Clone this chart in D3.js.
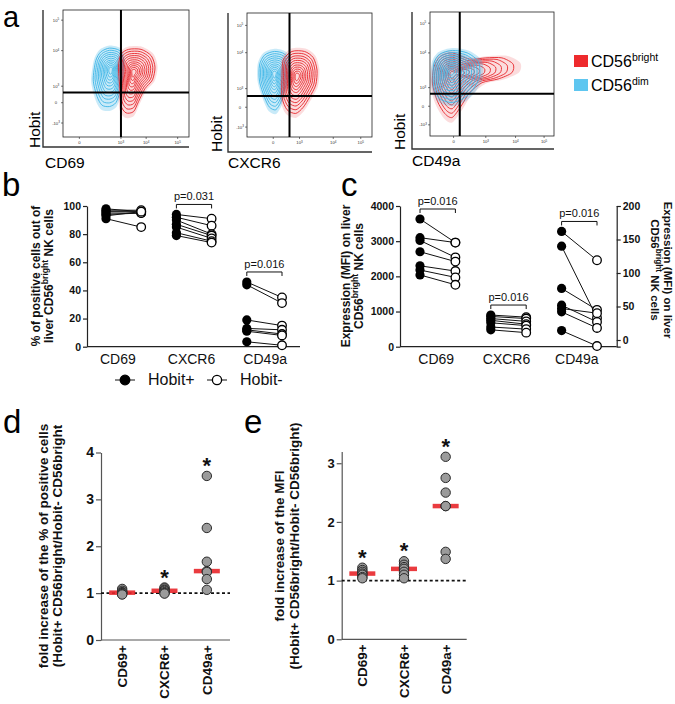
<!DOCTYPE html>
<html><head><meta charset="utf-8">
<script src="https://cdn.jsdelivr.net/npm/d3@7"></script>
<style>body{margin:0;background:#fff}svg{display:block}text{font-family:"Liberation Sans",Arial,sans-serif}</style>
</head><body><svg id="fig" width="675" height="704"></svg>
<script>
// ================= DATA =================
// panel a: flow plots (display units 0-100 inside each plot box)
const flowMarkers = ["CD69", "CXCR6", "CD49a"];
const flowYTickLabels = [["10","5"], ["10","4"], ["10","3"], ["0",""], ["-10","3"]];
const flowXTickLabels = [["0",""], ["10","3"], ["10","4"], ["10","5"]];
const flowYTicks = [[92, 68, 40, 27, 11], [90, 68, 39, 24, 8], [91, 67, 39, 24, 9]];
const flowXTicks = [[13, 46, 66, 91], [21, 42, 69, 91], [19, 45, 69, 92]];
const flowGates = [[46, 35], [34, 33], [24, 34]];
const contourLevels = [1, 0.9, 0.8, 0.71, 0.62, 0.53, 0.44, 0.36, 0.28, 0.2, 0.12];
const brightPeaks = [[56, 51], [40, 49], [18, 50]];
const dimPeaks = [[38, 53], [22, 51], [17, 52]];
const brightOutlines = [
  [[46,65],[52,69],[62,69],[70,64],[73,55],[71,45],[65,38],[60,28],[56,20],[50,19],[46,25],[45,40],[44,55]],
  [[29,62],[36,69],[46,69],[53,64],[56,54],[55,42],[50,32],[45,24],[39,19],[32,22],[28,32],[28,48]],
  [[3,55],[8,64],[18,67],[32,62],[45,63],[58,63],[67,58],[66,51],[55,46],[42,43],[32,35],[25,24],[18,15],[12,18],[6,28],[2,42]]
];
const dimOutlines = [
  [[26,60],[30,67],[37,70],[45,68],[48,60],[47,45],[45,35],[42,27],[37,24],[31,25],[27,32],[24,45]],
  [[10,58],[14,66],[22,69],[30,67],[34,60],[33,48],[30,38],[27,28],[23,22],[18,24],[14,32],[10,45]],
  [[3,58],[8,66],[18,69],[30,67],[39,60],[40,48],[35,38],[28,31],[18,27],[8,30],[3,40]]
];
const legendA = [["CD56", "bright"], ["CD56", "dim"]];

// panel b: % positive cells, Hobit+ vs Hobit- (7 donors)
const bcCategories = ["CD69", "CXCR6", "CD49a"];
const pctHobitPos = [[98, 97, 96, 95, 94, 93, 91], [94, 92, 90, 87, 85, 81, 79], [46, 44, 19, 13, 12, 11, 3.5]];
const pctHobitNeg = [[96, 97, 96, 95, 95, 96, 85], [91, 86, 80, 79, 77, 75, 74], [35, 31, 15, 12, 9, 8, 1]];
const pB = ["", "p=0.031", "p=0.016"];
const bTicks = [0, 20, 40, 60, 80, 100];
const legendB = ["Hobit+", "Hobit-"];

// panel c: MFI (CD49a on right axis)
const mfiHobitPos = [[3630, 3100, 3020, 2700, 2300, 2180, 2040], [900, 860, 800, 750, 680, 560, 480], [162, 140, 77, 52, 47, 42, 14]];
const mfiHobitNeg = [[2960, 2960, 2540, 2420, 2150, 1970, 1760], [840, 800, 720, 640, 600, 500, 400], [119, 33, 45, 27, 40, 18, -9]];
const pC = ["p=0.016", "p=0.016", "p=0.016"];
const cLeftTicks = [0, 1000, 2000, 3000, 4000];
const cRightTicks = [0, 50, 100, 150, 200];

// panel d/e: fold increase
const foldCategories = ["CD69+", "CXCR6+", "CD49a+"];
const foldPct = [[1.09, 1.05, 1.02, 1.01, 1.0, 0.98, 0.97], [1.12, 1.1, 1.07, 1.05, 1.02, 1.0, 0.99], [3.5, 2.39, 1.67, 1.47, 1.45, 1.3, 1.07]];
const foldMfi = [[1.22, 1.18, 1.15, 1.12, 1.1, 1.06, 1.04], [1.33, 1.27, 1.23, 1.2, 1.15, 1.1, 1.04], [3.11, 2.75, 2.5, 2.27, 2.27, 1.49, 1.37]];
const sigPct = [false, true, true];
const sigMfi = [true, true, true];
const dTicks = [0, 1, 2, 3, 4];
const eTicks = [0, 1, 2, 3];

// ================= STYLE =================
const RED = "#e8262b", BLUE = "#3db5e6";
const svg = d3.select("#fig");
const FONT = '"Liberation Sans",Arial,sans-serif';
const fmtInt = d3.format("d");

function letter(t, x, y, size) {
  svg.append("text").attr("x", x).attr("y", y).attr("font-size", size || 33).text(t);
}

// ================= PANEL A =================
const flowBoxes = [
  {x0: 63, x1: 189, y0: 10, y1: 137, ax: 43, ay: 147, hx: 39.5, hy: 148, lx: 45, ly: 168},
  {x0: 247, x1: 372, y0: 13, y1: 137, ax: 228, ay: 152, hx: 222, hy: 152, lx: 228, ly: 168},
  {x0: 430, x1: 554, y0: 12, y1: 136, ax: 412, ay: 149, hx: 404.5, hy: 150, lx: 412, ly: 166}
];
const curve = d3.line().curve(d3.curveCardinalClosed.tension(0.2));
flowBoxes.forEach((b, i) => {
  const g = svg.append("g");
  const xs = d3.scaleLinear().domain([0, 100]).range([b.x0, b.x1]);
  const ys = d3.scaleLinear().domain([0, 100]).range([b.y1, b.y0]);
  const clipId = "clip" + i;
  g.append("clipPath").attr("id", clipId).append("rect")
    .attr("x", b.x0).attr("y", b.y0).attr("width", b.x1 - b.x0).attr("height", b.y1 - b.y0);
  const cg = g.append("g").attr("clip-path", `url(#${clipId})`);
  const pops = [
    {outline: dimOutlines[i], peak: dimPeaks[i], color: BLUE, op: 0.28},
    {outline: brightOutlines[i], peak: brightPeaks[i], color: RED, op: 0.16}
  ];
  if (i === 2) pops.reverse();
  pops.forEach(p => {
    const ring = s => p.outline.map(([x, y]) => [xs(p.peak[0] + (x - p.peak[0]) * s), ys(p.peak[1] + (y - p.peak[1]) * s)]);
    cg.append("path").attr("d", curve(ring(1.12))).attr("fill", p.color).attr("opacity", p.op);
    contourLevels.forEach(s => {
      cg.append("path").attr("d", curve(ring(s))).attr("fill", "none")
        .attr("stroke", p.color).attr("stroke-width", 0.9);
    });
  });
  g.append("rect").attr("x", b.x0).attr("y", b.y0).attr("width", b.x1 - b.x0).attr("height", b.y1 - b.y0)
    .attr("fill", "none").attr("stroke", "#222").attr("stroke-width", 0.8);
  g.append("line").attr("x1", xs(flowGates[i][0])).attr("x2", xs(flowGates[i][0]))
    .attr("y1", ys(0)).attr("y2", ys(100)).attr("stroke", "#000").attr("stroke-width", 2);
  g.append("line").attr("x1", xs(0)).attr("x2", xs(100))
    .attr("y1", ys(flowGates[i][1])).attr("y2", ys(flowGates[i][1])).attr("stroke", "#000").attr("stroke-width", 2);
  flowYTicks[i].forEach((v, k) => {
    g.append("line").attr("x1", b.x0 - 2).attr("x2", b.x0).attr("y1", ys(v)).attr("y2", ys(v)).attr("stroke", "#222").attr("stroke-width", 0.6);
    const t = g.append("text").attr("x", b.x0 - 7).attr("y", ys(v) + 1.5).attr("font-size", 4.2).attr("text-anchor", "middle").attr("fill", "#333");
    t.append("tspan").text(flowYTickLabels[k][0]);
    if (flowYTickLabels[k][1]) t.append("tspan").attr("dy", -1.5).attr("font-size", 3).text(flowYTickLabels[k][1]);
  });
  flowXTicks[i].forEach((v, k) => {
    g.append("line").attr("x1", xs(v)).attr("x2", xs(v)).attr("y1", b.y1).attr("y2", b.y1 + 2).attr("stroke", "#222").attr("stroke-width", 0.6);
    const t = g.append("text").attr("x", xs(v)).attr("y", b.y1 + 7).attr("font-size", 4.2).attr("text-anchor", "middle").attr("fill", "#333");
    t.append("tspan").text(flowXTickLabels[k][0]);
    if (flowXTickLabels[k][1]) t.append("tspan").attr("dy", -1.5).attr("font-size", 3).text(flowXTickLabels[k][1]);
  });
  g.append("path").attr("d", `M${b.ax},${b.y0}V${b.ay}H${b.x1}`).attr("fill", "none").attr("stroke", "#333").attr("stroke-width", 1.4);
  g.append("text").attr("transform", `translate(${b.hx},${b.hy}) rotate(-90)`).attr("font-size", 15.5).text("Hobit");
  g.append("text").attr("x", b.lx).attr("y", b.ly).attr("font-size", 15.5).text(flowMarkers[i]);
});
legendA.forEach((l, k) => {
  const y = 55 + k * 24;
  svg.append("rect").attr("x", 574).attr("y", y).attr("width", 14).attr("height", 12).attr("fill", k ? "#5ec6f0" : "#ee2a2d");
  const t = svg.append("text").attr("x", 591).attr("y", y + 12).attr("font-size", 16);
  t.append("tspan").text(l[0]);
  t.append("tspan").attr("dy", -6).attr("font-size", 10.5).text(l[1]);
});
letter("a", 3, 26.5, 29);

// ================= PANEL B / C helpers =================
function pairedPanel(opts) {
  const g = svg.append("g");
  const slot = d3.scaleLinear().domain([0, 5]).range(opts.slotRange);
  const band = d3.scaleBand().domain(bcCategories).range(opts.bandRange);
  const ya = g.append("g").attr("transform", `translate(${opts.axisX},0)`)
    .call(d3.axisLeft(opts.yL).tickValues(opts.ticksL).tickFormat(fmtInt).tickSize(4).tickPadding(2).tickSizeOuter(0));
  ya.selectAll("text").attr("font-size", 10.5).attr("font-weight", "bold").attr("fill", "#111").attr("font-family", FONT);
  ya.selectAll("path,line").attr("stroke", "#222").attr("stroke-width", 1.2);
  if (opts.yR) {
    const yr = g.append("g").attr("transform", `translate(${opts.rightX},0)`)
      .call(d3.axisRight(opts.yR).tickValues(opts.ticksR).tickFormat(fmtInt).tickSize(4).tickPadding(2).tickSizeOuter(4));
    yr.selectAll("text").attr("font-size", 10.5).attr("font-weight", "bold").attr("fill", "#111").attr("font-family", FONT);
    yr.selectAll("path,line").attr("stroke", "#222").attr("stroke-width", 1.2);
  }
  const y0 = opts.yL(0);
  g.append("line").attr("x1", opts.axisX).attr("x2", opts.xEnd).attr("y1", y0).attr("y2", y0).attr("stroke", "#222").attr("stroke-width", 1.2);
  const xa = g.append("g").attr("transform", `translate(0,${y0})`).call(d3.axisBottom(band).tickSize(0).tickPadding(4));
  xa.select(".domain").remove();
  xa.selectAll("text").attr("font-size", 14).attr("fill", "#111").attr("font-family", FONT).attr("dy", "0.95em");
  bcCategories.forEach((c, i) => {
    const ys = (opts.yR && i === 2) ? opts.yR : opts.yL;
    const xp = slot(2 * i), xn = slot(2 * i + 1);
    opts.pos[i].forEach((v, k) => {
      g.append("line").attr("x1", xp).attr("x2", xn).attr("y1", ys(v)).attr("y2", ys(opts.neg[i][k])).attr("stroke", "#111").attr("stroke-width", 1);
    });
    opts.pos[i].forEach(v => g.append("circle").attr("cx", xp).attr("cy", ys(v)).attr("r", 4.6).attr("fill", "#000"));
    opts.neg[i].forEach(v => g.append("circle").attr("cx", xn).attr("cy", ys(v)).attr("r", 4.3).attr("fill", "#fff").attr("stroke", "#000").attr("stroke-width", 1.3));
    if (opts.p[i]) {
      const by = ys(d3.max(opts.pos[i])) - 10;
      g.append("path").attr("d", `M${xp},${by + 4}V${by}H${xn}V${by + 4}`).attr("fill", "none").attr("stroke", "#111").attr("stroke-width", 1);
      g.append("text").attr("x", (xp + xn) / 2).attr("y", by - 4).attr("text-anchor", "middle").attr("font-size", 11).attr("fill", "#111").text(opts.p[i]);
    }
  });
  return g;
}
function titleLines(x, y, rot, lines, size) {
  lines.forEach((ln, k) => {
    const t = svg.append("text").attr("transform", `translate(${x[k]},${y}) rotate(${rot})`)
      .attr("text-anchor", "middle").attr("font-size", size).attr("font-weight", "bold").attr("fill", "#111");
    ln.forEach(part => {
      const s = t.append("tspan").text(part[0]);
      if (part[1] === "sup") s.attr("font-size", size * 0.72).attr("dy", -size * 0.4);
      if (part[1] === "down") s.attr("dy", size * 0.4);
    });
  });
}

// ================= PANEL B =================
const yB = d3.scaleLinear().domain([0, 100]).range([346.7, 206]);
pairedPanel({yL: yB, ticksL: bTicks, axisX: 87, xEnd: 300, slotRange: [106, 282], bandRange: [81, 302],
  pos: pctHobitPos, neg: pctHobitNeg, p: pB});
titleLines([40, 52.5], 276, -90, [[["% of positive cells out of"]], [["liver CD56"], ["bright", "sup"], [" NK cells", "down"]]], 12);
legendB.forEach((l, k) => {
  const cx = 125 + k * 92;
  svg.append("line").attr("x1", cx - 10).attr("x2", cx + 10).attr("y1", 380).attr("y2", 380).attr("stroke", "#111").attr("stroke-width", 1);
  svg.append("circle").attr("cx", cx).attr("cy", 380).attr("r", k ? 4.6 : 4.8).attr("fill", k ? "#fff" : "#000").attr("stroke", "#000").attr("stroke-width", 1.3);
  svg.append("text").attr("x", cx + 23).attr("y", 385).attr("font-size", 16).attr("fill", "#111").text(l);
});
letter("b", 2, 196);

// ================= PANEL C =================
const yC = d3.scaleLinear().domain([0, 4000]).range([346.7, 206]);
const yC2 = d3.scaleLinear().domain([-10, 200]).range([346.7, 206]);
pairedPanel({yL: yC, ticksL: cLeftTicks, yR: yC2, ticksR: cRightTicks, rightX: 616.7, axisX: 400, xEnd: 616.7,
  slotRange: [420, 597], bandRange: [401, 612], pos: mfiHobitPos, neg: mfiHobitNeg, p: pC});
titleLines([349.5, 362.5], 276, -90, [[["Expression (MFI) on liver"]], [["CD56"], ["bright", "sup"], [" NK cells", "down"]]], 12);
titleLines([663.5, 651], 270, 90, [[["Expression (MFI) on liver"]], [["CD56"], ["bright", "sup"], [" NK cells", "down"]]], 11.5);
letter("c", 341, 196);

// ================= PANEL D / E =================
function foldPanel(o) {
  const g = svg.append("g");
  const band = d3.scaleBand().domain(foldCategories).range(o.bandRange);
  const ya = g.append("g").attr("transform", `translate(${o.axisX},0)`)
    .call(d3.axisLeft(o.y).tickValues(o.ticks).tickFormat(fmtInt).tickSize(5).tickPadding(2).tickSizeOuter(0));
  ya.selectAll("text").attr("font-size", o.tickFont).attr("font-weight", "bold").attr("fill", "#111").attr("font-family", FONT);
  ya.selectAll("path,line").attr("stroke", "#555").attr("stroke-width", 1.2);
  const y0 = o.y(0);
  g.append("line").attr("x1", o.axisX).attr("x2", o.xEnd).attr("y1", y0).attr("y2", y0).attr("stroke", "#555").attr("stroke-width", 1.2);
  const xa = g.append("g").attr("transform", `translate(0,${y0})`).call(d3.axisBottom(band).tickSize(0));
  xa.select(".domain").remove();
  xa.selectAll("text").attr("font-size", 13.5).attr("font-weight", "bold").attr("fill", "#111").attr("font-family", FONT)
    .attr("transform", "rotate(-90)").attr("text-anchor", "end").attr("x", -5).attr("y", 0).attr("dy", "0.36em");
  g.append("line").attr("x1", o.axisX).attr("x2", o.xEnd).attr("y1", o.y(1)).attr("y2", o.y(1))
    .attr("stroke", "#111").attr("stroke-width", 1.6).attr("stroke-dasharray", "3,2.5");
  foldCategories.forEach((c, i) => {
    const cx = band(c) + band.bandwidth() / 2;
    const med = d3.median(o.data[i]);
    g.append("line").attr("x1", cx - 13).attr("x2", cx + 13).attr("y1", o.y(med)).attr("y2", o.y(med))
      .attr("stroke", RED).attr("stroke-width", 4.5).attr("opacity", 0.9);
    o.data[i].forEach(v => g.append("circle").attr("cx", cx).attr("cy", o.y(v)).attr("r", 4.7)
      .attr("fill", "#9b9b9b").attr("stroke", "#2a2a2a").attr("stroke-width", 1));
    if (o.sig[i]) {
      g.append("text").attr("x", cx).attr("y", o.y(d3.max(o.data[i])) - 3).attr("text-anchor", "middle")
        .attr("font-size", 22).attr("font-weight", "bold").attr("fill", "#111").text("*");
    }
  });
}
const yD = d3.scaleLinear().domain([0, 4]).range([640, 452.5]);
foldPanel({y: yD, ticks: dTicks, axisX: 101, xEnd: 230, bandRange: [101, 228], data: foldPct, sig: sigPct, tickFont: 14});
titleLines([47.5, 62], 546, -90, [[["fold increase of the % of positive cells"]], [["(Hobit+ CD56bright/Hobit- CD56bright"]]], 13.5);
const yE = d3.scaleLinear().domain([0, 3.2]).range([639.3, 451.5]);
foldPanel({y: yE, ticks: eTicks, axisX: 341.7, xEnd: 466.7, bandRange: [341.5, 466.5], data: foldMfi, sig: sigMfi, tickFont: 13});
titleLines([284, 299], 546, -90, [[["fold increase of the MFI"]], [["(Hobit+ CD56bright/Hobit- CD56bright)"]]], 13.5);
letter("d", 3, 433);
letter("e", 244, 433);
</script></body></html>
